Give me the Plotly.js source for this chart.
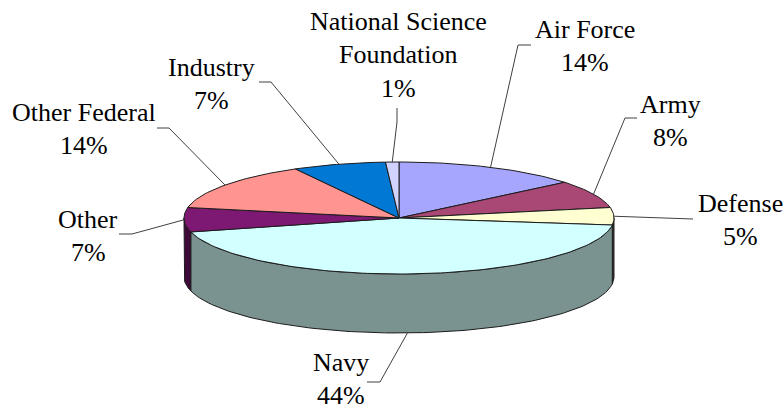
<!DOCTYPE html>
<html><head><meta charset="utf-8">
<script src="https://cdn.plot.ly/plotly-3.0.1.min.js"></script>
<style>html,body{margin:0;padding:0;background:#fff}#c{width:784px;height:410px}</style>
</head><body><div id="c"></div>
<script>
// data
var categories = ["Air Force","Army","Defense","Navy","Other","Other Federal","Industry","National Science Foundation"];
var values = [14,8,5,44,7,14,7,1];
var topColors = ["#A6A6FF","#A94775","#FFFFD2","#D2FFFF","#7D1873","#FF9490","#0078D4","#D2D2FF"];
var wallColors = ["#53537F","#54233A","#3A3A30","#7A9290","#3E0A3A","#7F4A48","#003C6A","#69697F"];
var labelLines = [["Air Force"],["Army"],["Defense"],["Navy"],["Other"],["Other Federal"],["Industry"],["National Science","Foundation"]];
// label layout: centre x, first line y, and leader stub end + elbow, rim anchor nudge
var labelPos = [[585,29],[670,104],[740,203],[341,362],[88,219],[84,112],[211,67],[398,21]];
var elbows = [[[531,45],[518,45]],[[637,118],[625,118]],[[693,219],[680,219]],[[367,382],[380,382]],[[119,234],[132,234]],[[157,128],[169,128]],[[259,82],[271,82]],[[397,108],[397,122]]];
var anchorNudge = [0,0,0,-5,0,0,0,0];
// pie geometry
var cx=399, cy=218, rx=215, ry=56, depth=59, lineH=33.5;
var sum=values.reduce(function(a,b){return a+b},0);
function pt(deg,dz){var r=deg*Math.PI/180;return [cx+rx*Math.sin(r), cy-ry*Math.cos(r)+(dz||0)];}
function arc(a0,a1,dz){var n=Math.max(2,Math.ceil(Math.abs(a1-a0)/1.5)),o=[];for(var i=0;i<=n;i++)o.push(pt(a0+(a1-a0)*i/n,dz));return o;}
var traces=[], cum=0, spans=[];
values.forEach(function(v,i){var a0=cum/sum*360;cum+=v;spans.push([a0,cum/sum*360]);});
function poly(pts,fill,name){traces.push({type:'scatter',mode:'lines',x:pts.map(function(p){return p[0]}),y:pts.map(function(p){return p[1]}),fill:'toself',fillcolor:fill,line:{color:'#1c1c1c',width:1},hoverinfo:'text',text:name,showlegend:false});}
// walls: only the front half of the rim (90..270 deg)
spans.forEach(function(s,i){
  var a=Math.max(s[0],90), b=Math.min(s[1],270);
  if(b>a){var top=arc(a,b,0), bot=arc(b,a,depth);poly(top.concat(bot,[top[0]]),wallColors[i],categories[i]);}
});
// tops
spans.forEach(function(s,i){poly([[cx,cy]].concat(arc(s[0],s[1],0),[[cx,cy]]),topColors[i],categories[i]);});
// leaders from each slice rim (a slice facing the viewer leaves from the wall's bottom edge)
var ann=[];
spans.forEach(function(s,i){
  var mid=(s[0]+s[1])/2, dz=(mid>100&&mid<260)?depth:0;
  var p=pt(mid,dz), e=elbows[i];
  traces.push({type:'scatter',mode:'lines',x:[p[0]+anchorNudge[i],e[1][0],e[0][0]],y:[p[1],e[1][1],e[0][1]],line:{color:'#404040',width:1},hoverinfo:'skip',showlegend:false});
  var lines=labelLines[i].concat([values[i]+'%']);
  lines.forEach(function(t,j){ann.push({x:labelPos[i][0],y:labelPos[i][1]+j*lineH,xref:'x',yref:'y',text:t,showarrow:false,xanchor:'center',yanchor:'middle',font:{family:'"Liberation Serif",serif',size:26,color:'#000'}});});
});
Plotly.newPlot('c',traces,{
  width:784,height:410,margin:{l:0,r:0,t:0,b:0},paper_bgcolor:'#fff',plot_bgcolor:'#fff',showlegend:false,
  xaxis:{range:[0,784],visible:false,fixedrange:true},
  yaxis:{range:[410,0],visible:false,fixedrange:true},
  annotations:ann
},{displayModeBar:false,staticPlot:true});
</script></body></html>
